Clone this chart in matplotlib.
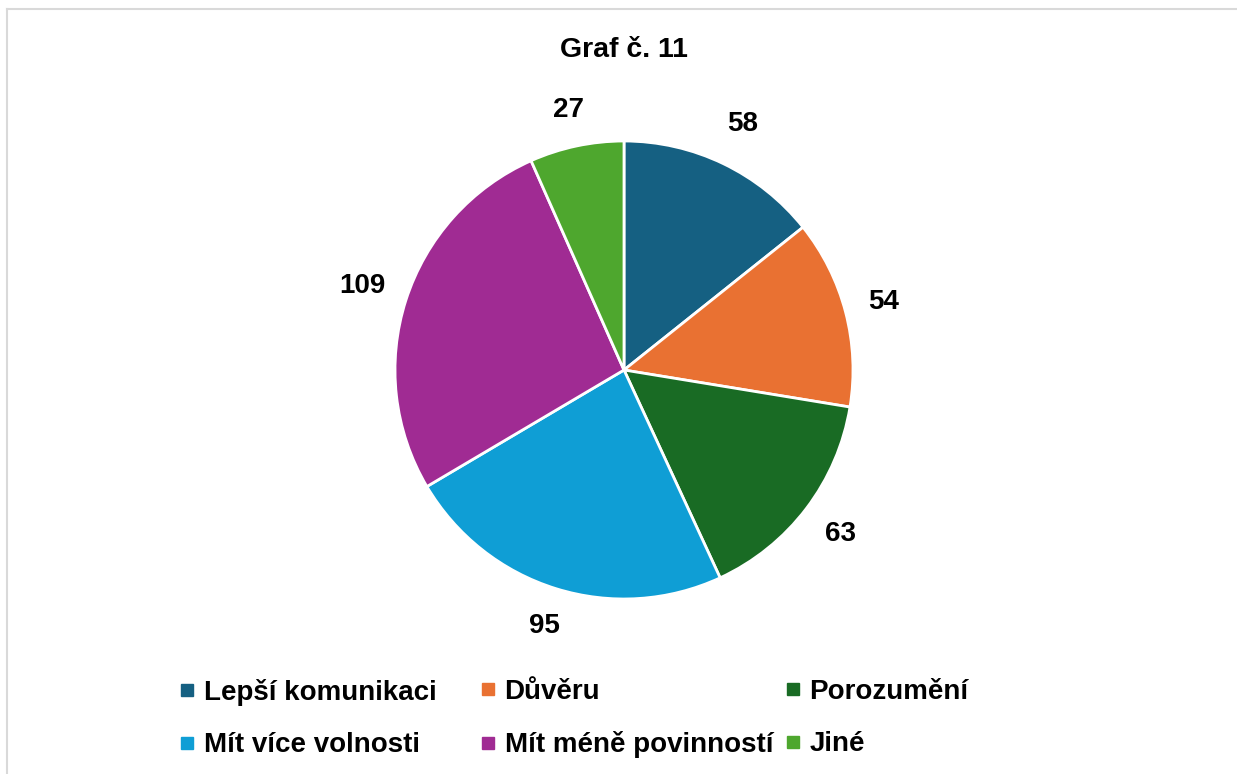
import numpy as np
import matplotlib.pyplot as plt
from matplotlib.lines import Line2D

# Data
categories = ['Lepší komunikaci', 'Důvěru', 'Porozumění',
              'Mít více volnosti', 'Mít méně povinností', 'Jiné']
values = [58, 54, 63, 95, 109, 27]
colors = ['#156082', '#E97132', '#196B24', '#0F9ED5', '#A02B93', '#4EA72E']

plt.rcParams['font.family'] = ['Liberation Sans', 'DejaVu Sans']
plt.rcParams['font.weight'] = 'bold'

W, H = 1237, 774
fig = plt.figure(figsize=(W / 100, H / 100), dpi=100)

# pie axes: centre (624, 370), radius 229 px
cx, cy, r = 624, 370, 229
ax = fig.add_axes([(cx - r) / W, (H - cy - r) / H, 2 * r / W, 2 * r / H])
wedges, texts = ax.pie(values, colors=colors, startangle=90, counterclock=False,
                       labels=[str(v) for v in values], labeldistance=1.17,
                       wedgeprops=dict(edgecolor='white', linewidth=2),
                       textprops=dict(fontsize=20, fontweight='bold', color='black'))
ax.set_xlim(-1, 1)
ax.set_ylim(-1, 1)
ax.set_aspect('equal')

# per-label distance (outside end, like Excel)
label_dist = [1.19, 1.17, 1.185, 1.17, 1.2, 1.16]
for w, t, d in zip(wedges, texts, label_dist):
    ang = np.deg2rad((w.theta1 + w.theta2) / 2)
    t.set_position((d * np.cos(ang), d * np.sin(ang)))
    t.set_ha('center')
    t.set_va('center')

fig.text(cx / W, 1 - 50 / H, 'Graf č. 11', ha='center', va='center',
         fontsize=20.5, fontweight='bold')

# legend: 3 columns, row-major order like Excel
col_x = [180, 481, 786]
for c in range(3):
    idx = [c, c + 3]
    handles = [Line2D([], [], marker='s', linestyle='none', markersize=8,
                      color=colors[i]) for i in idx]
    fig.legend(handles, [categories[i] for i in idx], loc='upper left',
               bbox_to_anchor=(col_x[c] / W, 1 - 679 / H), frameon=False,
               fontsize=20, handlelength=0.5, handletextpad=0.35,
               labelspacing=0.95, borderpad=0, borderaxespad=0)

# chart area border (top and left visible)
fig.add_artist(plt.Line2D([7.5 / W, 7.5 / W], [0, 1 - 9 / H], transform=fig.transFigure,
                          color='#D9D9D9', linewidth=1.5))
fig.add_artist(plt.Line2D([7.5 / W, 1], [1 - 9 / H, 1 - 9 / H], transform=fig.transFigure,
                          color='#D9D9D9', linewidth=1.5))

fig.savefig('out.png', dpi=100, facecolor='white')
